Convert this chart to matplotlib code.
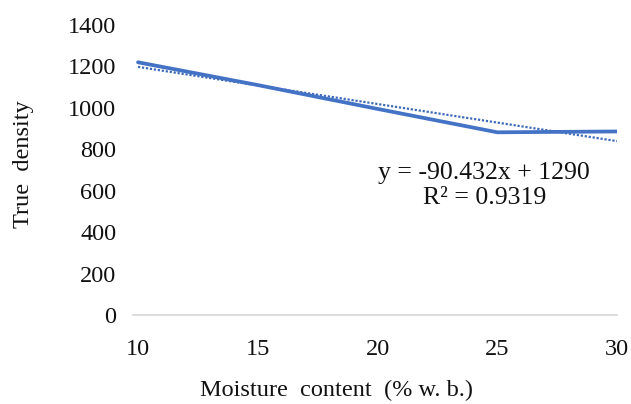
import matplotlib.pyplot as plt
import numpy as np

moisture = [10, 15, 20, 25, 30]
density = [1220, 1110, 995, 882, 886]
y_ticks = [0, 200, 400, 600, 800, 1000, 1200, 1400]
eq_text = "y = -90.432x + 1290"
r2_text = "R\u00b2 = 0.9319"

plt.rcParams['font.family'] = ['Liberation Serif', 'DejaVu Serif']

W, H = 631, 404
fig = plt.figure(figsize=(W / 100, H / 100), dpi=100)
ax = fig.add_axes([133 / W, 1 - 315 / H, 484 / W, 290 / H])

# Excel linear trendline works on point index 1..5
idx = np.arange(1, len(moisture) + 1)
slope, intercept = np.polyfit(idx, density, 1)
trend = slope * idx + intercept

ax.plot(moisture, density, color='#4472C4', lw=2.7, solid_capstyle='round', zorder=3)
ax.plot(moisture, trend, color='#3d6ab8', lw=1.6, ls=(0, (1, 0.8)), zorder=2)

ax.set_xlim(9.79, 30)
ax.set_ylim(0, 1400)
ax.set_xticks(moisture)
ax.set_yticks(y_ticks)
ax.tick_params(length=0, labelsize=17.5, colors='#111111')
ax.tick_params(axis='x', pad=17)
ax.tick_params(axis='y', pad=12)
for s in ['top', 'right', 'left']:
    ax.spines[s].set_visible(False)
ax.spines['bottom'].set_color('#d9d9d9')
ax.spines['bottom'].set_linewidth(1.3)
ax.spines['bottom'].set_zorder(1)

fig.text(336 / W, 1 - 390 / H, 'Moisture  content  (% w. b.)', fontsize=17.5,
         ha='center', va='center', color='#111111')
fig.text(23 / W, 1 - 164 / H, 'True  density', fontsize=17.5, rotation=90,
         ha='center', va='center', color='#111111')

fig.text(484 / W, 1 - 173 / H, eq_text, ha='center', va='center', fontsize=18.5, color='#111111')
fig.text(485 / W, 1 - 198 / H, r2_text, ha='center', va='center', fontsize=18.5, color='#111111')

fig.savefig('out.png', dpi=100)
